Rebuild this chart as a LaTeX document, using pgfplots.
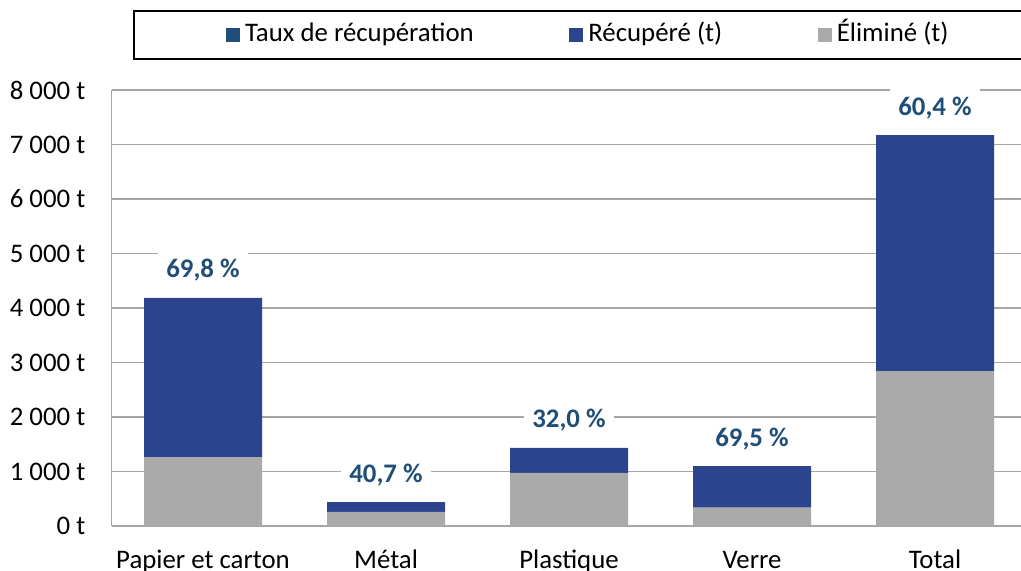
\documentclass[border=0pt]{standalone}
\usepackage{pgfplots}
\pgfplotsset{compat=1.18}
\usepackage{fontspec}
\setmainfont{Carlito}
\definecolor{bleu}{RGB}{44,68,142}
\definecolor{gris}{RGB}{170,170,170}
\definecolor{taux}{RGB}{31,78,121}
\definecolor{gridgray}{RGB}{166,166,166}
\pgfplotsset{common/.style={
  at={(83.625pt,33.75pt)}, anchor=south west,
  scale only axis, width=686.25pt, height=327pt,
  xmin=-0.5, xmax=4.5, ymin=0, ymax=8000}}
\begin{document}
\fontsize{20.1pt}{24pt}\selectfont
\begin{tikzpicture}
\begin{axis}[
  common,
  ybar stacked, bar width=88.5pt,
  xtick={0,1,2,3,4},
  xticklabels={Papier et carton, Métal, Plastique, Verre, Total},
  ytick={0,1000,2000,3000,4000,5000,6000,7000,8000},
  yticklabels={0 t,1 000 t,2 000 t,3 000 t,4 000 t,5 000 t,6 000 t,7 000 t,8 000 t},
  major tick length=0pt,
  axis x line*=bottom, axis y line*=left,
  axis line style={draw=gridgray, line width=1.1pt},
  ymajorgrids, grid style={draw=gridgray, line width=1.1pt},
  yticklabel style={anchor=east, inner sep=0pt, xshift=-19.5pt, font=\fontsize{20.1pt}{24pt}\selectfont},
  xticklabel style={anchor=base, inner sep=0pt, yshift=-32pt, font=\fontsize{20.1pt}{24pt}\selectfont},
  legend image code/.code={\fill[#1, draw=none] (0pt,-5.25pt) rectangle (10.5pt,5.25pt);},
  legend style={at={(0.0235,1.1835)}, anchor=north west, draw=black, line width=1.5pt,
    legend columns=3, inner xsep=69pt, inner ysep=8pt,
    font=\fontsize{20.1pt}{24pt}\selectfont,
    nodes={inner xsep=3.75pt, inner ysep=0pt, text height=0.75em, text depth=0.25em},
    /tikz/every even column/.append style={column sep=68pt}},
  legend cell align=left,
]
\addlegendimage{fill=taux}
\addlegendimage{fill=bleu}
\addlegendimage{fill=gris}
\legend{Taux de récupération, Récupéré (t), Éliminé (t)}
\addplot[fill=gris, draw=none] coordinates {(0,1265) (1,260) (2,975) (3,335) (4,2840)};
\addplot[fill=bleu, draw=none] coordinates {(0,2920) (1,180) (2,460) (3,765) (4,4330)};
\end{axis}
\begin{axis}[common, hide axis]
\addplot[draw=none, mark=none, nodes near coords, point meta=explicit symbolic,
  nodes near coords style={anchor=center, yshift=20.25pt, fill=white, text=taux,
    font=\fontsize{20.1pt}{24pt}\selectfont\bfseries, inner xsep=6pt, inner ysep=6.75pt,
    text height=13.5pt, text depth=3pt}]
  coordinates {(0,4185) [69,8 \%] (1,440) [40,7 \%] (2,1435) [32,0 \%] (3,1100) [69,5 \%] (4,7170) [60,4 \%]};
\end{axis}
\pgfresetboundingbox
\path[use as bounding box] (0,0) rectangle (765.75pt,428.25pt);
\end{tikzpicture}
\end{document}
